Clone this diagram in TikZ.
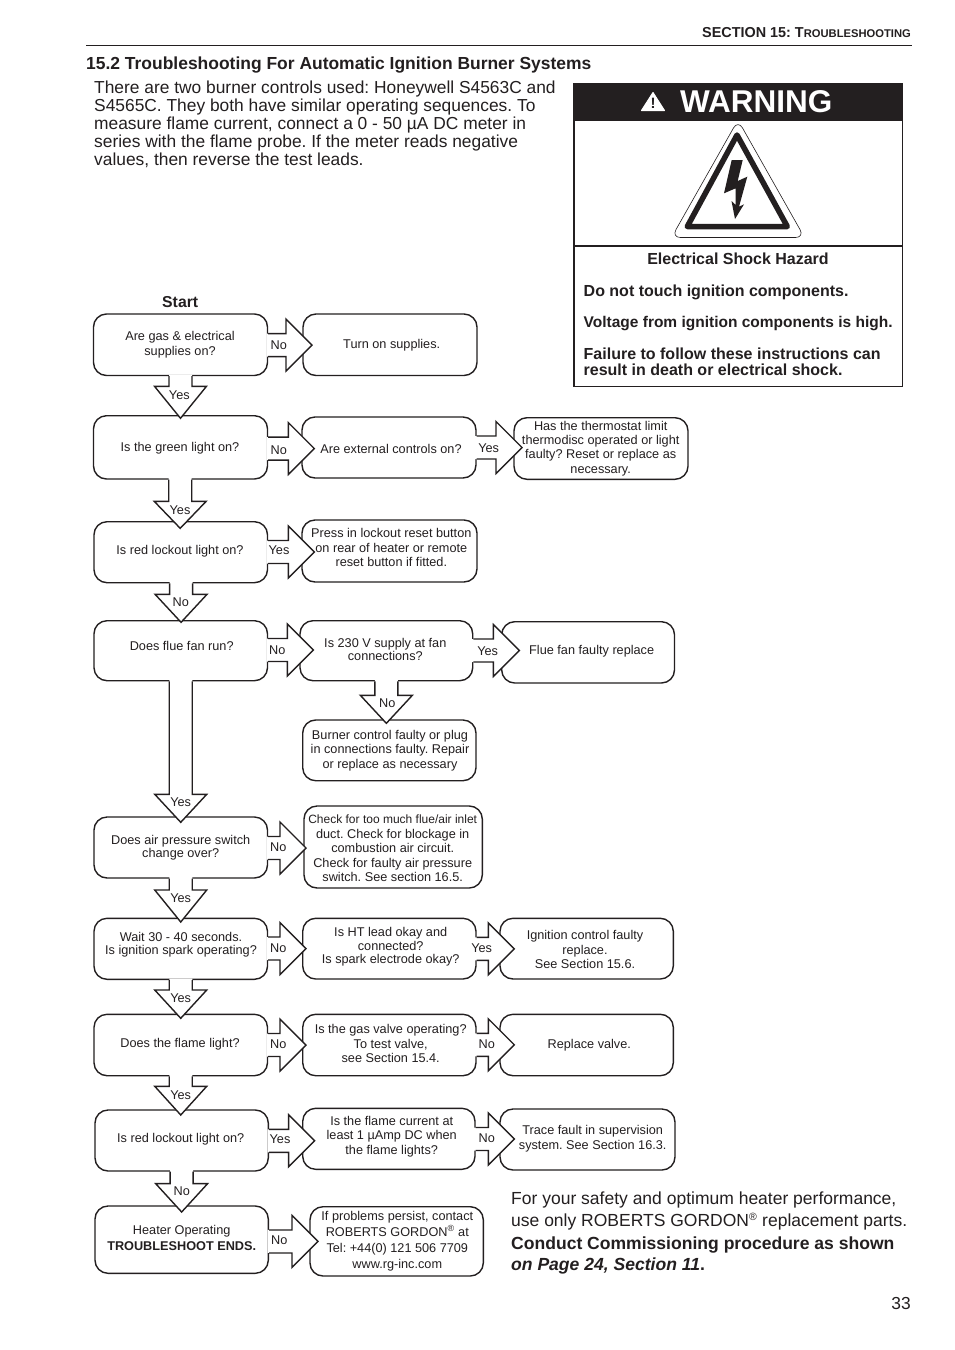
\documentclass[tikz,border=0pt]{standalone}
\usepackage{fontspec}
\setmainfont{Liberation Sans}
\usetikzlibrary{calc,fit}
\definecolor{ink}{HTML}{231F20}
\AtBeginDocument{\frenchspacing}
\tikzset{
  flowbox/.style={draw=ink,line width=1.4pt,rounded corners=13pt,inner sep=0pt,fill=white},
  flowtext/.style={text=ink,inner sep=0pt,align=center,yshift=-1pt,font=\fontsize{12.7}{#1}\selectfont},
  flowlabel/.style={text=ink,inner sep=0pt,font=\fontsize{12.7}{15}\selectfont},
  blockline/.style={draw=ink,line width=1.4pt,line join=miter,fill=none},
  basew/.style={text=ink,inner sep=0pt,anchor=base west},
}
% box from corners
\newcommand\BX[5]{\node[flowbox,fit={(#2,#3) (#4,#5)}] (#1) {};}
% box text: name, x, y, leading, text
\newcommand\TX[5]{\node[flowtext=#4] (#1) at (#2,#3) {#5};}
% arrow label
\newcommand\LB[4]{\node[flowlabel] (#1) at (#2,#3) {#4};}
% horizontal block arrow: src, dst, dy of axis from src centre, tip inset into dst
\newcommand\HA[4]{%
  \coordinate (S) at ($(#1.east)+(0,#3)$);
  \coordinate (T) at ($(S -| #2.west)+(#4,0)$);
  \fill[white] ($(S)+(-1.5,-11.5)$) -- ($(T)+(-26,-11.5)$) -- ($(T)+(-26,-26)$) -- (T)
     -- ($(T)+(-26,26)$) -- ($(T)+(-26,11.5)$) -- ($(S)+(-1.5,11.5)$) -- cycle;
  \draw[blockline] ($(S)+(0,-11.5)$) -- ($(T)+(-26,-11.5)$) -- ($(T)+(-26,-26)$) -- (T)
     -- ($(T)+(-26,26)$) -- ($(T)+(-26,11.5)$) -- ($(S)+(0,11.5)$);
}
% vertical block arrow: src, dst, dx of axis from src centre, tip inset into dst, head length
\newcommand\VA[5]{%
  \coordinate (S) at ($(#1.south)+(#3,0)$);
  \coordinate (T) at ($(S |- #2.north)+(0,#4)$);
  \fill[white] ($(S)+(-11.5,-1.5)$) -- ($(T)+(-11.5,-#5)$) -- ($(T)+(-26,-#5)$) -- (T)
     -- ($(T)+(26,-#5)$) -- ($(T)+(11.5,-#5)$) -- ($(S)+(11.5,-1.5)$) -- cycle;
  \draw[blockline] ($(S)+(-11.5,0)$) -- ($(T)+(-11.5,-#5)$) -- ($(T)+(-26,-#5)$) -- (T)
     -- ($(T)+(26,-#5)$) -- ($(T)+(11.5,-#5)$) -- ($(S)+(11.5,0)$);
}
\begin{document}
\begin{tikzpicture}[x=1pt,y=-1pt]
\useasboundingbox (0,0) rectangle (954,1350);
\fill[white] (0,0) rectangle (954,1350);

% header
\node[text=ink,inner sep=0pt,anchor=base east,font=\bfseries\fontsize{14.4}{15}\selectfont] (hdr) at (911,37.5) {SECTION 15: T{\fontsize{11.2}{12}\selectfont ROUBLESHOOTING}};
\draw[ink,line width=1pt] (86,45) -- (912,45);
\node[basew,font=\bfseries\fontsize{17.45}{20}\selectfont] (title) at (86,69.3) {15.2 Troubleshooting For Automatic Ignition Burner Systems};
\node[text=ink,inner sep=0pt,anchor=north west,align=left,font=\fontsize{17.37}{17.9}\selectfont] (intro) at (94,81) {There are two burner controls used: Honeywell S4563C and\\S4565C. They both have similar operating sequences. To\\measure flame current, connect a 0 - 50 µA DC meter in\\series with the flame probe. If the meter reads negative\\values, then reverse the test leads.};

% warning panel
\fill[ink] (573,83) rectangle (903,120.5);
\draw[ink,line width=1.5pt] (574,84) rectangle (902.3,386.7);
\draw[ink,line width=2pt] (574,246) -- (902.3,246);
\fill[white,draw=white,line width=1pt,line join=round] (653,92.5) -- (641.5,110.5) -- (664.5,110.5) -- cycle;
\node[text=ink,inner sep=0pt,font=\bfseries\fontsize{15}{15}\selectfont] (bang) at (653,103) {!};
\node[text=white,inner sep=0pt,anchor=base west,font=\bfseries\fontsize{31.5}{32}\selectfont] (warn) at (680,112) {WARNING};
\draw[ink,line width=0.6pt,rounded corners=9pt] (738,120) -- (671.5,237.5) -- (804.5,237.5) -- cycle;
\draw[ink,line width=5.5pt,line join=round] (737,135) -- (687.3,226.5) -- (787.3,226.5) -- cycle;
\fill[ink] (731.7,160) -- (742.7,160) -- (737.7,181) -- (747.3,176.7) -- (739,206.7) -- (744,204.3) -- (735,219) -- (731.5,201) -- (735.5,205) -- (735.7,188.3) -- (724,193.3) -- cycle;
\node[text=ink,inner sep=0pt,anchor=base,font=\bfseries\fontsize{16}{16}\selectfont] (haz) at (738,264) {Electrical Shock Hazard};
\node[basew,font=\bfseries\fontsize{16}{16}\selectfont] (w1) at (583.5,296) {Do not touch ignition components.};
\node[basew,font=\bfseries\fontsize{15.5}{16}\selectfont] (w2) at (583.5,327.5) {Voltage from ignition components is high.};
\node[text=ink,inner sep=0pt,anchor=north west,align=left,font=\bfseries\fontsize{16}{15.8}\selectfont] (w3) at (583.5,348) {Failure to follow these instructions can\\result in death or electrical shock.};

% start
\node[basew,font=\bfseries\fontsize{15.8}{16}\selectfont] (start) at (162,307.5) {Start};

% boxes
\BX{a1}{93.5}{314}{267.5}{375.5}
\BX{a2}{303}{314}{477}{375.5}
\BX{b1}{93.5}{415.7}{267.5}{479}
\BX{b2}{302}{417}{476}{478}
\BX{b3}{514}{417.7}{688}{479.3}
\BX{c1}{94}{521.7}{267.5}{582.7}
\BX{c2}{302}{520}{477}{582}
\BX{d1}{94}{620.7}{267.5}{680.7}
\BX{d2}{300}{620.7}{472.7}{680.7}
\BX{d3}{501.7}{621.7}{674.5}{683}
\BX{e1}{302.7}{720}{476}{780.7}
\BX{f1}{94}{817}{267.5}{878}
\BX{f2}{304}{806}{482.3}{888}
\BX{g1}{94}{918.3}{267.5}{979.3}
\BX{g2}{302.7}{918.3}{476}{979}
\BX{g3}{500}{918.3}{673.3}{979}
\BX{h1}{94}{1014.3}{267.5}{1075.7}
\BX{h2}{302.7}{1014.3}{476}{1075.7}
\BX{h3}{500}{1014.3}{673.3}{1075.7}
\BX{i1}{95}{1110}{268.3}{1171}
\BX{i2}{302.7}{1108.3}{475}{1169.3}
\BX{i3}{500}{1109}{675}{1170}
\BX{j1}{95}{1206}{268.3}{1273.3}
\BX{j2}{310}{1206.7}{483.3}{1276}

% block arrows
\HA{a1}{a2}{0.3}{9.7}
\VA{a1}{b1}{0}{3.3}{32}
\HA{b1}{b2}{1.2}{13}
\HA{b2}{b3}{0}{8.7}
\VA{b1}{c1}{-0.3}{7.3}{27}
\HA{c1}{c2}{-0.2}{13}
\VA{c1}{d1}{0.3}{2.3}{28}
\HA{d1}{d2}{-0.7}{14}
\HA{d2}{d3}{-0.2}{18.3}
\VA{d2}{e1}{0}{4}{28}
\VA{d1}{f1}{0}{6}{28}
\HA{f1}{f2}{0.5}{2.7}
\VA{f1}{g1}{0}{4.4}{32}
\HA{g1}{g2}{-0.3}{4}
\HA{g2}{g3}{0.2}{15}
\VA{g1}{h1}{0}{4.7}{28.3}
\HA{h1}{h2}{0}{4}
\HA{h2}{h3}{-0.2}{15}
\VA{h1}{i1}{0}{5.7}{28.7}
\HA{i1}{i2}{0.3}{12.6}
\HA{i2}{i3}{0.2}{15}
\VA{i1}{j1}{0}{6.7}{28.4}
\HA{j1}{j2}{1.8}{8.7}

% box texts
\TX{ta1}{180}{343.3}{15}{Are gas \& electrical\\supplies on?}
\TX{ta2}{391.7}{344}{15}{Turn on supplies.}
\TX{tb1}{180}{447.7}{15}{Is the green light on?}
\TX{tb2}{391}{447.7}{15}{Are external controls on?}
\TX{tb3}{600.7}{447.5}{14.4}{Has the thermostat limit\\thermodisc operated or light\\faulty? Reset or replace as\\necessary.}
\TX{tc1}{180}{550}{15}{Is red lockout light on?}
\TX{tc2}{391.3}{546.5}{14.7}{Press in lockout reset button\\on rear of heater or remote\\reset button if fitted.}
\TX{td1}{181.7}{645}{15}{Does flue fan run?}
\TX{td2}{385.3}{648.7}{12.7}{Is 230 V supply at fan\\connections?}
\TX{td3}{591.7}{650.7}{15}{Flue fan faulty replace}
\TX{te1}{390}{749.5}{14.3}{Burner control faulty or plug\\in connections faulty. Repair\\or replace as necessary}
\TX{tf1}{180.7}{846.7}{13}{Does air pressure switch\\change over?}
\TX{tf2}{392.7}{847.7}{14.5}{{\fontsize{12}{14.5}\selectfont Check for too much flue/air inlet}\\duct. Check for blockage in\\combustion air circuit.\\Check for faulty air pressure\\switch. See section 16.5.}
\TX{tg1}{181}{943.8}{12.3}{Wait 30 - 40 seconds.\\Is ignition spark operating?}
\TX{tg2}{390.7}{946}{13.7}{Is HT lead okay and\\connected?\\Is spark electrode okay?}
\TX{tg3}{585}{948.6}{14.2}{Ignition control faulty\\replace.\\See Section 15.6.}
\TX{th1}{180}{1043.2}{15}{Does the flame light?}
\TX{th2}{390.7}{1042.6}{14.3}{Is the gas valve operating?\\To test valve,\\see Section 15.4.}
\TX{th3}{589.3}{1044}{15}{Replace valve.}
\TX{ti1}{180.7}{1138.3}{15}{Is red lockout light on?}
\TX{ti2}{391.7}{1135.7}{14.5}{Is the flame current at\\least 1 µAmp DC when\\the flame lights?}
\TX{ti3}{592.7}{1137.8}{14.3}{Trace fault in supervision\\system. See Section 16.3.}
\TX{tj1}{181.7}{1237.3}{16}{Heater Operating\\\textbf{TROUBLESHOOT ENDS.}}
\TX{tj2}{397.3}{1239.8}{16}{If problems persist, contact\\ROBERTS GORDON\textsuperscript{®} at\\Tel: +44(0) 121 506 7709\\www.rg-inc.com}

% arrow labels
\LB{l1}{278.7}{345}{No}
\LB{l2}{179.3}{394.7}{Yes}
\LB{l3}{278.7}{450}{No}
\LB{l4}{488.7}{447.7}{Yes}
\LB{l5}{180}{510}{Yes}
\LB{l6}{279}{550}{Yes}
\LB{l7}{180.7}{601.7}{No}
\LB{l8}{277.3}{650}{No}
\LB{l9}{487.7}{650.7}{Yes}
\LB{l10}{387.3}{703.3}{No}
\LB{l11}{180.7}{802.3}{Yes}
\LB{l12}{278.3}{846.7}{No}
\LB{l13}{180.7}{897.7}{Yes}
\LB{l14}{278.3}{947.7}{No}
\LB{l15}{481.7}{947.7}{Yes}
\LB{l16}{180.7}{997.7}{Yes}
\LB{l17}{278.3}{1044}{No}
\LB{l18}{486.7}{1044.3}{No}
\LB{l19}{180.7}{1095}{Yes}
\LB{l20}{280}{1139}{Yes}
\LB{l21}{486.7}{1138.3}{No}
\LB{l22}{181.7}{1190.7}{No}
\LB{l23}{279.3}{1240}{No}

% bottom right
\node[basew,font=\fontsize{17.5}{20}\selectfont] (p1) at (511,1204.5) {For your safety and optimum heater performance,};
\node[basew,font=\fontsize{17.5}{20}\selectfont] (p2) at (511,1226.5) {use only ROBERTS GORDON\textsuperscript{\fontsize{10.5}{10.5}\selectfont ®} replacement parts.};
\node[basew,font=\bfseries\fontsize{17.55}{20}\selectfont] (p3) at (511,1249.5) {Conduct Commissioning procedure as shown};
\node[basew,font=\bfseries\itshape\fontsize{17.55}{20}\selectfont] (p4) at (511,1270.5) {on Page 24, Section 11\textup{.}};
\node[text=ink,inner sep=0pt,anchor=base east,font=\fontsize{17.4}{18}\selectfont] (pg) at (911,1309.5) {33};
\end{tikzpicture}
\end{document}
